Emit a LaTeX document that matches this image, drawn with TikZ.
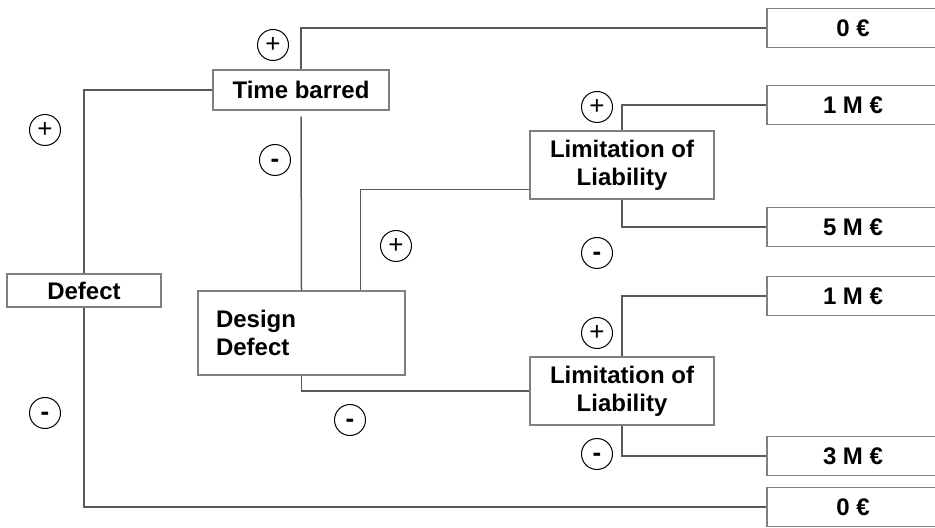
\documentclass[tikz,border=0pt]{standalone}
\usepackage{fontspec}
\setmainfont{Liberation Sans}
\begin{document}
\begin{tikzpicture}[x=0.5pt,y=-0.5pt,
    box/.style={draw=black!50, line width=0.6pt, fill=white, inner sep=0pt,
      font=\bfseries\fontsize{12}{14}\selectfont},
    outbox/.style={box, minimum width=86pt, minimum height=19.5pt},
    lolbox/.style={box, align=center, minimum width=92pt, minimum height=34pt},
    sign/.style={circle, draw, line width=0.5pt, minimum size=15.5pt, inner sep=0pt,
      font=\fontsize{13}{13}\selectfont},
    link/.style={draw=black!65, line width=0.75pt}]
  \useasboundingbox (0,0) rectangle (935,528);

  % decision boxes
  \node[box, minimum width=77pt, minimum height=16.5pt] (defect) at (84,290.5) {Defect};
  \node[box, minimum width=88pt, minimum height=20pt] (timebar) at (301,90) {Time barred};
  \node[box, align=left, text width=85.5pt, inner xsep=9pt, minimum height=42pt]
    (design) at (301.5,333) {Design\\Defect};
  \node[lolbox] (lolA) at (622,165) {Limitation of\\Liability};
  \node[lolbox] (lolB) at (622,391) {Limitation of\\Liability};

  % outcomes
  \node[outbox] (outA) at (853,28)  {0 €};
  \node[outbox] (outB) at (853,105) {1 M €};
  \node[outbox] (outC) at (853,227) {5 M €};
  \node[outbox] (outD) at (853,296) {1 M €};
  \node[outbox] (outE) at (853,456) {3 M €};
  \node[outbox] (outF) at (853,507) {0 €};

  % branches
  \draw[link] (timebar.west) -| (defect.north);
  \draw[link] (defect.south) |- (outF.west);
  \draw[link] (timebar.north) |- (outA.west);
  \draw[link, shorten <=3pt] (timebar.south) -- (design.north);
  \draw[link] ([xshift=-22.5pt]design.north east) |- ([yshift=5pt]lolA.south west);
  \draw[link] (design.south) |- (lolB.west);
  \draw[link] (lolA.north) |- (outB.west);
  \draw[link] (lolA.south) |- (outC.west);
  \draw[link] (lolB.north) |- (outD.west);
  \draw[link] (lolB.south) |- (outE.west);

  % signs on the branches
  \node[sign] (pA) at (45,130)  {+};
  \node[sign] (mA) at (45,413)  {\vphantom{+}\bfseries -};
  \node[sign] (pB) at (273,45)  {+};
  \node[sign] (mB) at (275,160) {\vphantom{+}\bfseries -};
  \node[sign] (pC) at (396,246) {+};
  \node[sign] (mC) at (350,420) {\vphantom{+}\bfseries -};
  \node[sign] (pD) at (597,107) {+};
  \node[sign] (mD) at (597,253) {\vphantom{+}\bfseries -};
  \node[sign] (pE) at (597,333) {+};
  \node[sign] (mE) at (597,454) {\vphantom{+}\bfseries -};
\end{tikzpicture}
\end{document}
